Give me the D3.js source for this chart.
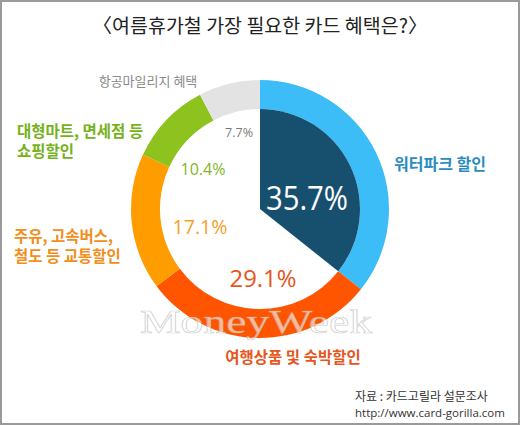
<!DOCTYPE html>
<html>
<head>
<meta charset="utf-8">
<script src="https://cdn.jsdelivr.net/npm/d3@7"></script>
<style>
  body { margin: 0; background: #fff; }
  svg { display: block; font-family: 'Noto Sans CJK KR', 'Noto Sans', sans-serif; }
</style>
</head>
<body>
<svg width="520" height="425"></svg>
<script>
const categories = ['워터파크 할인', '여행상품 및 숙박할인', '주유, 고속버스, 철도 등 교통할인', '대형마트, 면세점 등 쇼핑할인', '항공마일리지 혜택']
const values = [35.7, 29.1, 17.1, 10.4, 7.7]
const colors = ['#3cbdf7', '#ff5500', '#ff9c00', '#8dc21f', '#e3e3e3']
const labelColors = ['#2b8cc0', '#e6561c', '#f18e1c', '#76b21c', '#8a8a8a']
const labelLines = [['워터파크 할인'], ['여행상품 및 숙박할인'], ['주유, 고속버스,', '철도 등 교통할인'], ['대형마트, 면세점 등', '쇼핑할인'], ['항공마일리지 혜택']]

const width = 520, height = 425
const cx = 260, cy = 209, outerR = 129, innerR = 100

const svg = d3.select('svg')

svg.append('rect')
  .attr('x', 1).attr('y', 1).attr('width', width - 2).attr('height', height - 2)
  .attr('fill', '#fff').attr('stroke', '#9a9a9a').attr('stroke-width', 2)

svg.append('text')
  .attr('x', width / 2).attr('y', 33)
  .attr('text-anchor', 'middle')
  .attr('font-size', 19.5)
  .attr('fill', '#222')
  .text('〈여름휴가철 가장 필요한 카드 혜택은?〉')

const pie = d3.pie().sort(null).value(d => d)
const arcs = pie(values)

const g = svg.append('g').attr('transform', `translate(${cx},${cy})`)

g.selectAll('path.ring')
  .data(arcs)
  .join('path')
  .classed('ring', true)
  .attr('d', d3.arc().innerRadius(innerR).outerRadius(outerR))
  .attr('fill', (d, i) => colors[i])

// highlighted first slice
g.append('path')
  .attr('d', d3.arc().innerRadius(0).outerRadius(innerR)(arcs[0]))
  .attr('fill', '#17506f')

// percentage labels inside
const pctPos = [[47, -12], [3, 69], [-60, 17], [-57, -40], [-21, -77]]
const pctSize = [32, 23, 20, 16, 13.5]
const pctWidth = [82, 67, 55, 45, 28]
const pctColors = ['#fff', '#e6561c', '#f5a02a', '#7fb72a', '#7a7a7a']
g.selectAll('text.pct')
  .data(arcs)
  .join('text')
  .classed('pct', true)
  .attr('x', (d, i) => pctPos[i][0])
  .attr('y', (d, i) => pctPos[i][1])
  .attr('text-anchor', 'middle')
  .attr('dominant-baseline', 'central')
  .attr('font-family', "'Open Sans', 'Noto Sans', sans-serif")
  .attr('font-size', (d, i) => pctSize[i])
  .attr('textLength', (d, i) => pctWidth[i])
  .attr('lengthAdjust', 'spacingAndGlyphs')
  .attr('fill', (d, i) => pctColors[i])
  .text(d => d.data.toFixed(1) + '%')

// watermark
svg.append('text')
  .attr('x', 140).attr('y', 333)
  .attr('textLength', 232).attr('lengthAdjust', 'spacingAndGlyphs')
  .attr('font-family', "'Liberation Serif', 'DejaVu Serif', serif")
  .attr('font-size', 33)
  .attr('fill', '#fff').attr('fill-opacity', 0.6)
  .attr('stroke', '#b0b0b0').attr('stroke-opacity', 0.6).attr('stroke-width', 0.7)
  .text('MoneyWeek')

// category labels
const catPos = [[394, 170, 'start'], [293, 363, 'middle'], [14, 242, 'start'], [17, 137, 'start'], [148, 86, 'middle']]
const catSize = [16, 15.5, 15.5, 15.5, 13]
const cat = svg.selectAll('text.cat')
  .data(categories)
  .join('text')
  .classed('cat', true)
  .attr('x', (d, i) => catPos[i][0])
  .attr('y', (d, i) => catPos[i][1])
  .attr('text-anchor', (d, i) => catPos[i][2])
  .attr('font-size', (d, i) => catSize[i])
  .attr('font-weight', (d, i) => i === 4 ? 'normal' : 'bold')
  .attr('fill', (d, i) => labelColors[i])

cat.selectAll('tspan')
  .data((d, i) => labelLines[i].map(t => ({ t, x: catPos[i][0] })))
  .join('tspan')
  .attr('x', d => d.x)
  .attr('dy', (d, j) => j === 0 ? 0 : 20)
  .text(d => d.t)

// source
svg.append('text')
  .attr('x', 355).attr('y', 401)
  .attr('font-size', 12).attr('fill', '#333')
  .text('자료 : 카드고릴라 설문조사')
svg.append('text')
  .attr('x', 355).attr('y', 417)
  .attr('font-family', "'Open Sans', 'Noto Sans', sans-serif")
  .attr('font-size', 11.5).attr('fill', '#333')
  .text('http://www.card-gorilla.com')
</script>
</body>
</html>
